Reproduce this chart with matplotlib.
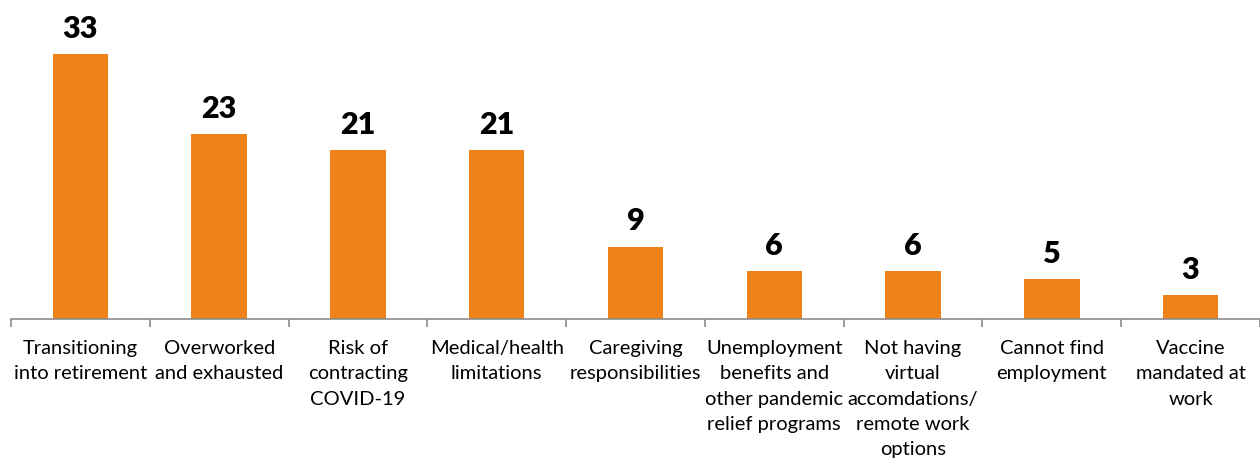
import matplotlib.pyplot as plt

# ----------------------------------------------------
# Data
# ----------------------------------------------------
categories = [
    "Transitioning\ninto retirement",
    "Overworked\nand exhausted",
    "Risk of\ncontracting\nCOVID-19",
    "Medical/health\nlimitations",
    "Caregiving\nresponsibilities",
    "Unemployment\nbenefits and\nother pandemic\nrelief programs",
    "Not having\nvirtual\naccomdations/\nremote work\noptions",
    "Cannot find\nemployment",
    "Vaccine\nmandated at\nwork",
]
values = [33, 23, 21, 21, 9, 6, 6, 5, 3]

BAR_COLOR = "#F0821A"

# ----------------------------------------------------
# Plot
# ----------------------------------------------------
plt.rcParams["font.family"] = ["Lato", "DejaVu Sans"]

fig = plt.figure(figsize=(12.6, 4.59), dpi=100)
ax = fig.add_axes([11 / 1260, (459 - 319) / 459, 1249 / 1260, 319 / 459])

x = range(len(values))
ax.bar(x, values, width=0.4, color=BAR_COLOR)

for i, v in enumerate(values):
    ax.text(i, v + 1.4, str(v), ha="center", va="bottom",
            fontsize=22, fontweight="heavy", color="black")

ax.set_xlim(-0.5, len(values) - 0.5)
ax.set_ylim(0, 39.7)

for side in ["top", "right", "left"]:
    ax.spines[side].set_visible(False)
ax.spines["bottom"].set_color("#8c8c8c")
ax.spines["bottom"].set_linewidth(1.2)

ax.set_yticks([])
ax.set_xticks([i - 0.5 for i in range(len(values) + 1)], minor=False)
ax.set_xticklabels([])
ax.tick_params(axis="x", length=6, color="#8c8c8c", width=1.2)

ax.set_xticks(list(x), minor=True)
ax.set_xticklabels(categories, minor=True, fontsize=14.5, linespacing=1.6,
                   va="top")
ax.tick_params(axis="x", which="minor", length=0, pad=15)

fig.savefig("out.png", dpi=100)
